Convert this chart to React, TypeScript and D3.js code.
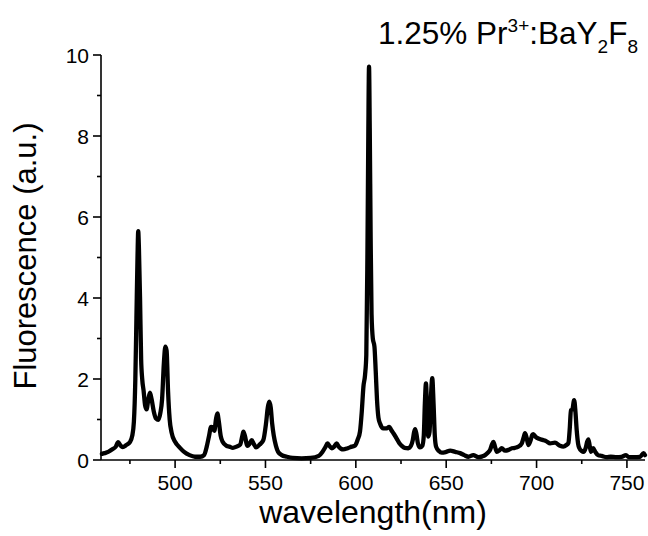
import React from "react";
import * as d3 from "d3";

// Emission spectrum of 1.25% Pr3+:BaY2F8
const wavelength = [
  459.5, 461, 463, 465.5, 467.2, 468.5, 469.8, 471, 473, 475, 476.3, 477.2, 478.0, 478.6, 479.2, 479.6,
  480.0, 480.6, 481.2, 481.8, 482.6, 483.4, 484.2, 485.2, 486.1, 487.0, 488.2, 489.5, 490.7, 491.8, 492.8,
  493.8, 494.6, 495.3, 496.1, 497.0, 498.1, 500, 502.7, 505, 508, 511, 514, 516, 517.5, 518.8, 519.9, 520.8,
  521.7, 522.6, 523.4, 524.2, 525.2, 526.3, 528.5, 530, 532, 534, 536, 537.2, 537.8, 538.6, 540, 541.2,
  542.4, 543.5, 544.8, 546.8, 548.8, 550.3, 551.3, 552.1, 552.9, 553.7, 554.6, 555.8, 557, 559, 561.8, 565,
  570, 575, 579.5, 581.5, 583.2, 584.3, 585.4, 586.7, 588, 589.4, 590.5, 593, 595.5, 597.7, 599.6, 601,
  602.3, 603.3, 604.2, 605.1, 605.8, 606.4, 606.9, 607.3, 607.7, 608.2, 608.7, 609.4, 610.3, 611.0, 611.7,
  612.5, 613.4, 615.2, 617, 618.5, 619.6, 620.8, 622.6, 624, 625.4, 627, 629, 630.5, 631.5, 632.3, 632.8,
  633.5, 634.4, 635.5, 636.8, 637.6, 638.2, 638.8, 639.4, 640.1, 640.8, 641.5, 642.3, 643.0, 643.7, 644.4,
  646, 647.5, 650, 652.2, 655, 657.7, 660, 662.3, 665, 667.8, 670, 671.5, 673, 674.3, 675.3, 676.1, 677,
  678, 679.5, 680.7, 682.6, 684.5, 686.3, 688, 689.9, 691.8, 692.8, 693.6, 694.5, 695.5, 696.8, 697.6,
  698.2, 699.5, 701, 703.8, 705.5, 707.5, 710.2, 713, 714.8, 716.5, 717.6, 718.4, 719, 719.8, 720.8, 721.5,
  722.2, 723, 723.7, 725, 725.9, 727.2, 728, 728.7, 729.4, 730.1, 731.3, 732.5, 734, 736, 738.8, 741,
  744.3, 747, 749.5, 751, 754, 757.3, 759.2, 760,
];
const fluorescence = [
  0.15, 0.17, 0.2, 0.27, 0.33, 0.44, 0.36, 0.32, 0.37, 0.44, 0.6, 0.95, 2.0, 3.5, 5.0, 5.65,
  5.2, 4.0, 2.5, 2.0, 1.7, 1.35, 1.25, 1.5, 1.66, 1.5, 1.2, 1.02, 0.99, 1.15, 1.5,
  2.4, 2.8, 2.7, 1.7, 1.0, 0.67, 0.45, 0.3, 0.2, 0.12, 0.08, 0.08, 0.12, 0.33, 0.6, 0.82, 0.8,
  0.72, 1.0, 1.15, 0.95, 0.6, 0.45, 0.35, 0.33, 0.3, 0.33, 0.38, 0.6, 0.7, 0.6, 0.35, 0.4,
  0.49, 0.4, 0.31, 0.38, 0.49, 0.9, 1.3, 1.44, 1.3, 0.9, 0.6, 0.35, 0.2, 0.12, 0.08, 0.05,
  0.04, 0.05, 0.1, 0.2, 0.32, 0.41, 0.35, 0.29, 0.33, 0.41, 0.33, 0.26, 0.29, 0.33, 0.36, 0.5,
  0.7, 1.2, 1.81, 2.1, 2.6, 5.0, 8.0, 9.71, 8.2, 5.5, 3.6, 3.0, 2.8, 2.2, 1.5,
  1.05, 0.9, 0.78, 0.78, 0.82, 0.74, 0.66, 0.53, 0.42, 0.35, 0.3, 0.29, 0.35, 0.49, 0.7, 0.76,
  0.65, 0.4, 0.31, 0.35, 0.6, 1.4, 1.89, 1.3, 0.58, 0.7, 1.5, 2.02, 1.4, 0.6, 0.33,
  0.22, 0.18, 0.2, 0.23, 0.2, 0.17, 0.12, 0.08, 0.12, 0.07, 0.09, 0.12, 0.18, 0.25, 0.38, 0.45, 0.33,
  0.2, 0.24, 0.29, 0.23, 0.25, 0.29, 0.3, 0.33, 0.41, 0.55, 0.66, 0.55, 0.37, 0.5, 0.62,
  0.64, 0.57, 0.53, 0.49, 0.46, 0.41, 0.43, 0.35, 0.33, 0.37, 0.42, 0.8, 1.23, 1.25, 1.48, 1.2,
  0.74, 0.4, 0.29, 0.22, 0.2, 0.3, 0.45, 0.51, 0.35, 0.2, 0.29, 0.2, 0.12, 0.1, 0.07, 0.08,
  0.07, 0.08, 0.12, 0.07, 0.07, 0.08, 0.17, 0.12,
];

const xMajorTicks = [500, 550, 600, 650, 700, 750];
const xMinorTicks = [475, 525, 575, 625, 675, 725];
const yMajorTicks = [0, 2, 4, 6, 8, 10];
const yMinorTicks = [1, 3, 5, 7, 9];
const xDomain = [459, 760];
const yDomain = [0, 10];

const W = 648;
const H = 536;
const left = 101;
const right = 645;
const top = 55;
const bottom = 460;
const FONT = "'Liberation Sans', Arial, sans-serif";

export default function App() {
  const x = d3.scaleLinear().domain(xDomain).range([left, right]);
  const y = d3.scaleLinear().domain(yDomain).range([bottom, top]);
  const points: [number, number][] = wavelength.map((w, i) => [w, fluorescence[i]]);
  const line = d3
    .line<[number, number]>()
    .x((d) => x(d[0]))
    .y((d) => y(d[1]))
    .curve(d3.curveMonotoneX);

  const axisStroke = 1.6;

  return (
    <svg
      width={W}
      height={H}
      style={{ position: "absolute", left: 0, top: 0, background: "#fff" }}
      fontFamily={FONT}
    >
      <rect width={W} height={H} fill="#fff" />
      {/* axes */}
      <line x1={left} x2={right} y1={bottom} y2={bottom} stroke="#000" strokeWidth={axisStroke} />
      <line x1={left} x2={left} y1={bottom} y2={top} stroke="#000" strokeWidth={axisStroke} />
      {xMajorTicks.map((t) => (
        <g key={"xM" + t}>
          <line x1={x(t)} x2={x(t)} y1={bottom} y2={bottom + 8} stroke="#000" strokeWidth={axisStroke} />
          <text x={x(t)} y={490} textAnchor="middle" fontSize={21}>
            {t}
          </text>
        </g>
      ))}
      {xMinorTicks.map((t) => (
        <line key={"xm" + t} x1={x(t)} x2={x(t)} y1={bottom} y2={bottom + 4} stroke="#000" strokeWidth={axisStroke} />
      ))}
      {yMajorTicks.map((t) => (
        <g key={"yM" + t}>
          <line x1={left - 8} x2={left} y1={y(t)} y2={y(t)} stroke="#000" strokeWidth={axisStroke} />
          <text x={89} y={y(t) + 7.5} textAnchor="end" fontSize={21}>
            {t}
          </text>
        </g>
      ))}
      {yMinorTicks.map((t) => (
        <line key={"ym" + t} x1={left - 4} x2={left} y1={y(t)} y2={y(t)} stroke="#000" strokeWidth={axisStroke} />
      ))}

      {/* spectrum */}
      <path d={line(points) || ""} fill="none" stroke="#000" strokeWidth={4.3} strokeLinejoin="round" strokeLinecap="round" />

      {/* axis titles */}
      <text x={373} y={523} textAnchor="middle" fontSize={32}>
        wavelength(nm)
      </text>
      <text transform="translate(36,256) rotate(-90)" textAnchor="middle" fontSize={31}>
        Fluorescence (a.u.)
      </text>

      {/* sample label */}
      <text x={378} y={44} fontSize={31.5}>
        1.25% Pr
        <tspan fontSize={19} dy={-12}>3+</tspan>
        <tspan dy={12}>:BaY</tspan>
        <tspan fontSize={19} dy={9}>2</tspan>
        <tspan dy={-9}>F</tspan>
        <tspan fontSize={19} dy={9}>8</tspan>
      </text>
    </svg>
  );
}
